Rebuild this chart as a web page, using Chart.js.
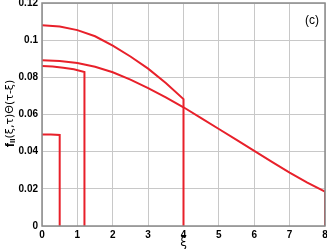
<!DOCTYPE html>
<html>
<head>
<meta charset="utf-8">
<script src="https://cdn.jsdelivr.net/npm/chart.js@4/dist/chart.umd.min.js"></script>
<style>
  html, body { margin: 0; padding: 0; background: #fff; }
  #wrap { width: 327px; height: 252px; }
</style>
</head>
<body>
<div id="wrap"><canvas id="fig"></canvas></div>
<script>
// tick labels
const xTicks = [0, 1, 2, 3, 4, 5, 6, 7, 8];
const yTicks = [0, 0.02, 0.04, 0.06, 0.08, 0.1, 0.12];

// curves (each ends with a drop to zero)
const xiA = [0, 0.5, 1, 1.5, 2, 2.5, 3, 3.5, 4, 4];
const fA  = [0.108, 0.1073, 0.1054, 0.1021, 0.0970, 0.0912, 0.0847, 0.0770, 0.0683, 0];

const xiB = [0, 0.5, 1, 1.5, 2, 2.5, 3, 3.5, 4, 4.5, 5, 5.5, 6, 6.5, 7, 7.5, 8, 8];
const fB  = [0.0892, 0.0888, 0.0877, 0.0857, 0.0827, 0.0788, 0.0742, 0.0692, 0.0639, 0.0581, 0.0522, 0.0463, 0.0404, 0.0345, 0.0287, 0.0234, 0.0185, 0];

const xiC = [0, 0.3, 0.6, 0.9, 1.2, 1.2];
const fC  = [0.0861, 0.0858, 0.0852, 0.0843, 0.0829, 0];

const xiD = [0, 0.25, 0.5, 0.5];
const fD  = [0.0493, 0.0492, 0.0490, 0];

const red = '#e8202a';
const axisGrey = '#8a8a8a';

function pts(xs, ys) {
    return xs.map((x, i) => ({ x: x, y: ys[i] }));
}

// axes box, y label and panel tag
const decor = {
    id: 'decor',
    afterDraw(chart) {
        const ctx = chart.ctx;
        const a = chart.chartArea;
        ctx.save();
        ctx.strokeStyle = axisGrey;
        ctx.lineWidth = 1.5;
        ctx.strokeRect(a.left, a.top, a.right - a.left, a.bottom - a.top);

        ctx.fillStyle = '#000';
        ctx.font = '12px "Liberation Sans", Arial, sans-serif';
        ctx.textAlign = 'right';
        ctx.textBaseline = 'middle';
        ctx.fillText('(c)', a.right - 6, a.top + 18);

        // x title
        ctx.textAlign = 'center';
        ctx.textBaseline = 'top';
        ctx.font = '12px "DejaVu Sans", sans-serif';
        ctx.fillText('ξ', chart.scales.x.getPixelForValue(4), 237);

        // y title, rotated, with subscript
        ctx.translate(10, (a.top + a.bottom) / 2 - 1);
        ctx.rotate(-Math.PI / 2);
        ctx.textBaseline = 'middle';
        ctx.textAlign = 'left';
        const parts = [
            { t: 'f', f: 'bold 13px "Liberation Sans", Arial, sans-serif', dy: 0 },
            { t: 'II', f: 'bold 8px "Liberation Sans", Arial, sans-serif', dy: 3 },
            { t: '(ξ,τ)Θ(τ-ξ)', f: '11px "DejaVu Sans", sans-serif', dy: 0 }
        ];
        let w = 0;
        parts.forEach(p => { ctx.font = p.f; w += ctx.measureText(p.t).width; });
        let x0 = -w / 2;
        parts.forEach(p => {
            ctx.font = p.f;
            ctx.fillText(p.t, x0, p.dy);
            x0 += ctx.measureText(p.t).width;
        });
        ctx.restore();
    }
};

const tickFont = { family: '"Liberation Sans", Arial, sans-serif', size: 10, weight: 'bold' };
const gridStyle = { color: '#c8c8c8', borderDash: [1, 2], drawTicks: false };

new Chart(document.getElementById('fig'), {
    type: 'scatter',
    data: {
        datasets: [
            { data: pts(xiA, fA) },
            { data: pts(xiB, fB) },
            { data: pts(xiC, fC) },
            { data: pts(xiD, fD) }
        ].map(d => Object.assign(d, {
            showLine: true,
            borderColor: red,
            borderWidth: 2,
            pointRadius: 0,
            tension: 0,
            fill: false
        }))
    },
    options: {
        responsive: true,
        maintainAspectRatio: false,
        animation: false,
        layout: { padding: { top: 3, right: 2, left: 0, bottom: 0 } },
        plugins: {
            legend: { display: false },
            tooltip: { enabled: false }
        },
        scales: {
            x: {
                type: 'linear',
                min: 0,
                max: 8,
                afterBuildTicks: s => { s.ticks = xTicks.map(v => ({ value: v })); },
                afterFit: s => { s.height = 26; s.paddingLeft = 0; s.paddingRight = 0; },
                grid: gridStyle,
                border: { display: false },
                ticks: { color: '#000', font: tickFont, padding: 3, maxRotation: 0 }
            },
            y: {
                type: 'linear',
                min: 0,
                max: 0.12,
                afterBuildTicks: s => { s.ticks = yTicks.map(v => ({ value: v })); },
                afterFit: s => { s.width = 42; s.paddingTop = 0; s.paddingBottom = 0; },
                grid: gridStyle,
                border: { display: false },
                ticks: {
                    color: '#000',
                    font: tickFont,
                    padding: 4,
                    callback: v => String(+v.toFixed(2))
                }
            }
        }
    },
    plugins: [decor]
});
</script>
</body>
</html>
